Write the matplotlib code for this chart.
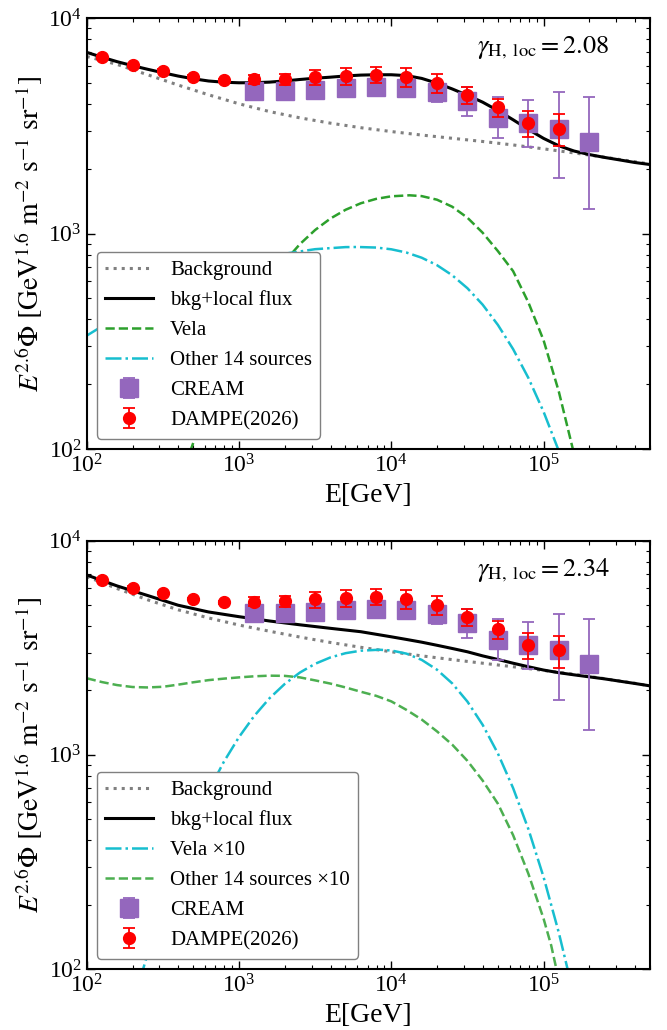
import matplotlib
matplotlib.use('Agg')
import matplotlib.pyplot as plt

plt.rcParams['font.family'] = ['Liberation Serif', 'DejaVu Serif']
plt.rcParams['mathtext.fontset'] = 'stix'

# ---- measured points (same in both panels) ----
dampe_E = [126, 200, 316, 501, 794, 1259, 1995, 3162, 5012, 7943,
           12589, 19953, 31623, 50119, 79433, 125893]
dampe_flux = [6587, 6046, 5706, 5351, 5164, 5203, 5220, 5317, 5392, 5479,
              5351, 5018, 4398, 3855, 3269, 3078]
dampe_err = [100, 90, 85, 80, 80, 230, 300, 440, 470, 490,
             535, 525, 410, 360, 450, 520]

cream_E = [1259, 1995, 3162, 5012, 7943, 12589, 19953, 31623, 50119,
           79433, 125893, 199526]
cream_flux = [4577, 4607, 4656, 4741, 4777, 4726, 4542, 4111, 3439, 3266,
              3078, 2653]
cream_lo = [4350, 4380, 4420, 4500, 4540, 4490, 4081, 3512, 2784, 2528,
            1814, 1307]
cream_hi = [4810, 4840, 4890, 4980, 5020, 4960, 5055, 4808, 4318, 4169,
            4557, 4292]

# ---- model curves: log10(E/GeV) and E^2.6 flux ----
bg_logE = [2.0, 2.2, 2.4, 2.6, 2.8, 3.0, 3.2, 3.4, 3.6, 3.8, 4.0, 4.2,
           4.4, 4.6, 4.8, 5.0, 5.2, 5.4, 5.6, 5.7]

# top panel, gamma = 2.08
bg_top = [6650, 6110, 5470, 4900, 4415, 4010, 3690, 3450, 3260, 3105, 2980,
          2870, 2773, 2680, 2582, 2477, 2371, 2265, 2158, 2104]
tot_top_logE = [2.0, 2.1, 2.2, 2.3, 2.4, 2.5, 2.6, 2.7, 2.8, 2.9, 3.0, 3.1,
                3.2, 3.3, 3.4, 3.5, 3.6, 3.7, 3.8, 3.9, 4.0, 4.1, 4.2, 4.3,
                4.4, 4.5, 4.6, 4.7, 4.8, 4.9, 5.0, 5.1, 5.2, 5.3, 5.4, 5.5,
                5.6, 5.7]
tot_top = [6950, 6600, 6290, 6030, 5800, 5590, 5395, 5240, 5117, 5050, 5020,
           5025, 5055, 5120, 5200, 5270, 5330, 5400, 5450, 5470, 5470, 5420,
           5260, 5000, 4700, 4390, 4080, 3730, 3380, 3050, 2770, 2560, 2420,
           2330, 2260, 2200, 2140, 2094]
vela_top_logE = [2.65, 2.7, 2.8, 2.9, 3.0, 3.1, 3.2, 3.3, 3.4, 3.5, 3.6,
                 3.7, 3.8, 3.9, 4.0, 4.12, 4.2, 4.3, 4.4, 4.5, 4.6, 4.7,
                 4.8, 4.9, 5.0, 5.1, 5.2, 5.25]
vela_top = [85, 107, 165, 243, 343, 461, 597, 743, 894, 1040, 1175, 1291,
            1384, 1450, 1491, 1507, 1494, 1438, 1334, 1186, 1010, 830, 670,
            480, 320, 185, 95, 68]
other_top_logE = [2.0, 2.25, 2.5, 2.75, 3.0, 3.25, 3.5, 3.7, 3.78, 3.9, 4.0,
                  4.1, 4.2, 4.3, 4.4, 4.5, 4.6, 4.7, 4.8, 4.9, 5.0, 5.1,
                  5.15]
other_top = [336, 431, 531, 631, 723, 797, 847, 866, 867, 862, 846, 817,
             773, 714, 641, 558, 468, 377, 291, 214, 149, 98, 78]

# bottom panel, gamma = 2.34
bg_bot = [6800, 5980, 5300, 4760, 4360, 4040, 3780, 3550, 3350, 3180, 3030,
          2900, 2785, 2680, 2580, 2480, 2380, 2270, 2160, 2100]
tot_bot_logE = [2.0, 2.2, 2.4, 2.6, 2.8, 3.0, 3.2, 3.4, 3.6, 3.8, 4.0, 4.1,
                4.2, 4.3, 4.4, 4.5, 4.6, 4.7, 4.8, 4.9, 5.0, 5.1, 5.2, 5.4,
                5.6, 5.7]
tot_bot = [6920, 6150, 5550, 5000, 4650, 4420, 4220, 4050, 3900, 3760, 3560,
           3460, 3360, 3250, 3140, 3030, 2900, 2790, 2680, 2580, 2490, 2420,
           2365, 2265, 2155, 2100]
vela_bot_logE = [2.35, 2.4, 2.5, 2.6, 2.7, 2.8, 2.9, 3.0, 3.1, 3.2, 3.3, 3.4,
                 3.5, 3.6, 3.7, 3.8, 3.92, 4.0, 4.1, 4.2, 4.3, 4.4, 4.5, 4.6,
                 4.7, 4.8, 4.9, 5.0, 5.1, 5.2]
vela_bot = [89, 118, 198, 315, 473, 678, 927, 1211, 1520, 1837, 2143, 2424,
            2663, 2851, 2985, 3066, 3098, 3074, 2970, 2777, 2500, 2158, 1774,
            1382, 1016, 700, 451, 269, 148, 75]
other_bot_logE = [2.0, 2.1, 2.2, 2.3, 2.4, 2.5, 2.6, 2.7, 2.8, 2.9, 3.0, 3.1,
                  3.2, 3.3, 3.4, 3.5, 3.6, 3.7, 3.8, 3.9, 4.0, 4.1, 4.2, 4.3,
                  4.4, 4.5, 4.6, 4.7, 4.8, 4.9, 5.0, 5.05, 5.1]
other_bot = [2280, 2188, 2118, 2075, 2065, 2080, 2128, 2183, 2234, 2270, 2301,
             2328, 2344, 2339, 2301, 2228, 2153, 2065, 1972, 1888, 1778, 1622,
             1462, 1288, 1117, 938, 759, 592, 422, 279, 172, 129, 89]


def to_E(logs):
    return [10 ** v for v in logs]


def draw_panel(ax, bg, tot, src_a, src_b, gamma_text):
    h_bg, = ax.plot(to_E(bg_logE), bg, ':', color='gray', lw=2.2)
    h_tot, = ax.plot(to_E(tot[0]), tot[1], '-', color='black', lw=2.2)
    h_a, = ax.plot(to_E(src_a[0]), src_a[1], src_a[2], color=src_a[3], lw=1.8)
    h_b, = ax.plot(to_E(src_b[0]), src_b[1], src_b[2], color=src_b[3], lw=1.8)

    yerr_c = [[f - l for f, l in zip(cream_flux, cream_lo)],
              [h - f for f, h in zip(cream_flux, cream_hi)]]
    h_cream = ax.errorbar(cream_E, cream_flux, yerr=yerr_c, fmt='s',
                          color='#9467bd', ms=13, capsize=4, elinewidth=1.3,
                          capthick=1.3, zorder=3)
    h_dampe = ax.errorbar(dampe_E, dampe_flux, yerr=dampe_err, fmt='o',
                          color='red', ms=8.5, capsize=4, elinewidth=1.3,
                          capthick=1.3, zorder=4)

    ax.set_xscale('log')
    ax.set_yscale('log')
    ax.set_xlim(100, 5e5)
    ax.set_ylim(100, 1e4)
    ax.tick_params(which='both', direction='in', top=True, right=True,
                   labelsize=17)
    ax.tick_params(which='major', length=6, width=1)
    ax.tick_params(which='minor', length=3, width=0.8)
    for s in ax.spines.values():
        s.set_linewidth(1.5)

    ax.set_xlabel('E[GeV]', fontsize=20)
    ax.set_ylabel(r'$E^{2.6}\Phi\ [\mathrm{GeV}^{1.6}\ \mathrm{m}^{-2}\ '
                  r'\mathrm{s}^{-1}\ \mathrm{sr}^{-1}]$', fontsize=20)
    ax.yaxis.set_label_coords(-0.074, 0.5)
    ax.text(0.81, 0.931, gamma_text, transform=ax.transAxes,
            ha='center', va='center', fontsize=19)

    handles = [h_bg, h_tot, h_a, h_b, h_cream, h_dampe]
    labels = ['Background', 'bkg+local flux', src_a[4], src_b[4],
              'CREAM', 'DAMPE(2026)']
    leg = ax.legend(handles, labels, loc='lower left', fontsize=15,
                    handlelength=2.3, framealpha=1, edgecolor='gray')
    leg.get_frame().set_linewidth(1.0)


fig = plt.figure(figsize=(6.67, 10.30), dpi=100)
ax1 = fig.add_axes([0.130, 0.5641, 0.8445, 0.4181])
ax2 = fig.add_axes([0.130, 0.0592, 0.8445, 0.4158])

draw_panel(ax1, bg_top, (tot_top_logE, tot_top),
           (vela_top_logE, vela_top, '--', '#2ca02c', 'Vela'),
           (other_top_logE, other_top, '-.', '#17becf', 'Other 14 sources'),
           r'$\gamma_{\mathrm{H,\ loc}} = 2.08$')
draw_panel(ax2, bg_bot, (tot_bot_logE, tot_bot),
           (vela_bot_logE, vela_bot, '-.', '#17becf', 'Vela ×10'),
           (other_bot_logE, other_bot, '--', '#4caf50',
            'Other 14 sources ×10'),
           r'$\gamma_{\mathrm{H,\ loc}} = 2.34$')

fig.savefig('out.png', dpi=100)
